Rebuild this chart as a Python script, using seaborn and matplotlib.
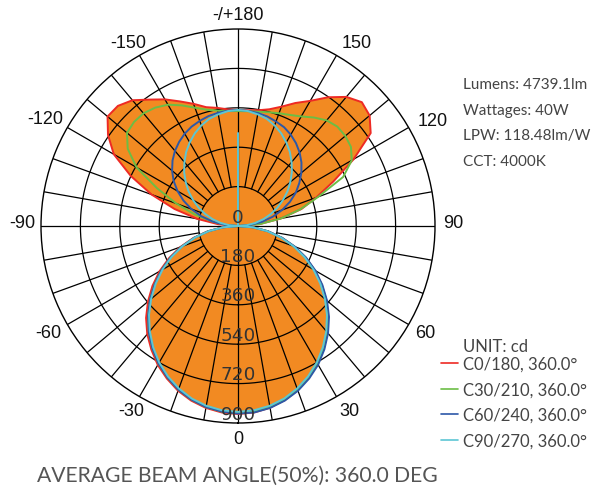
import numpy as np
import matplotlib
matplotlib.use("Agg")
import matplotlib.pyplot as plt
import seaborn as sns

sns.set_style("white")
plt.rcParams['font.family'] = ['Lato', 'DejaVu Sans']

# ---- data (cd), gamma angles -180..180 step 5 ----
angles = [-180, -175, -170, -165, -160, -155, -150, -145, -140, -135,
          -130, -125, -120, -115, -110, -105, -100, -95, -90,
          -85, -80, -75, -70, -65, -60, -55, -50, -45,
          -40, -35, -30, -25, -20, -15, -10, -5, 0,
          5, 10, 15, 20, 25, 30, 35, 40, 45,
          50, 55, 60, 65, 70, 75, 80, 85, 90,
          95, 100, 105, 110, 115, 120, 125, 130, 135,
          140, 145, 150, 155, 160, 165, 170, 175, 180]

c0_180 = [530, 535, 548, 562, 594, 628, 668, 705, 750, 776,
          778, 725, 655, 540, 420, 300, 190, 90, 0,
          71, 141, 211, 280, 348, 414, 477, 537, 594,
          645, 690, 733, 769, 801, 826, 844, 855, 859,
          855, 843, 824, 798, 765, 728, 684, 636, 583,
          527, 467, 405, 341, 274, 207, 139, 69, 0,
          100, 200, 300, 380, 480, 610, 740, 785, 800,
          770, 718, 660, 620, 580, 552, 537, 531, 530]
c30_210 = [525, 527, 535, 550, 575, 608, 640, 660, 672, 672,
           662, 615, 535, 408, 300, 205, 120, 60, 0,
           69, 138, 206, 273, 340, 404, 465, 525, 581,
           634, 682, 726, 763, 796, 821, 840, 851, 855,
           851, 840, 821, 796, 763, 726, 682, 634, 581,
           525, 465, 404, 340, 273, 206, 138, 69, 0,
           100, 200, 295, 390, 530, 600, 630, 640, 642,
           630, 605, 578, 560, 548, 538, 530, 526, 525]
c60_240 = [530, 529, 525, 520, 511, 501, 487, 469, 448, 423,
           393, 359, 319, 275, 227, 174, 118, 60, 0,
           69, 138, 206, 273, 340, 404, 465, 525, 581,
           634, 682, 726, 763, 796, 821, 840, 851, 857,
           855, 844, 826, 801, 769, 732, 688, 640, 588,
           531, 471, 409, 344, 277, 209, 140, 70, 0,
           57, 112, 165, 215, 262, 305, 342, 378, 410,
           438, 462, 482, 498, 508, 518, 524, 528, 530]
c90_270 = [530, 527, 518, 507, 489, 467, 441, 413, 381, 348,
           312, 276, 237, 199, 159, 120, 80, 40, 0,
           68, 136, 203, 270, 335, 398, 459, 518, 575,
           627, 676, 720, 758, 790, 816, 834, 845, 849,
           845, 834, 816, 790, 758, 720, 676, 627, 575,
           518, 459, 398, 335, 270, 203, 136, 68, 0,
           40, 80, 120, 159, 199, 237, 276, 312, 348,
           381, 413, 441, 467, 489, 507, 518, 527, 530]
spike_angles = [180, 180]
spike_values = [0, 425]

series_names = ["C0/180, 360.0°", "C30/210, 360.0°", "C60/240, 360.0°", "C90/270, 360.0°"]
series_values = [c0_180, c30_210, c60_240, c90_270]
series_colors = ["#EE2A24", "#6CBD45", "#2C58A8", "#5CC6D4"]

ring_values = [0, 180, 360, 540, 720, 900]
ring_labels = ["0", "180", "360", "540", "720", "900"]
angle_labels = ["0", "30", "60", "90", "120", "150", "-/+180", "-150", "-120", "-90", "-60", "-30"]

info_lines = ["Lumens: 4739.1lm", "Wattages: 40W", "LPW: 118.48lm/W", "CCT: 4000K"]
title = "AVERAGE BEAM ANGLE(50%): 360.0 DEG"

# ---- layout (pixels) ----
W, H = 592, 487
cx, cy, R = 238, 226, 197
angle_label_px = {"0": (238, 440), "30": (349, 411), "60": (425, 333), "90": (453, 223),
                  "120": (433, 121), "150": (357, 44), "-/+180": (238, 16),
                  "-150": (128, 44), "-120": (45, 120), "-90": (22, 223),
                  "-60": (48, 333), "-30": (131, 411)}

fig = plt.figure(figsize=(5.92, 4.87), dpi=100)
ax = fig.add_axes([(cx - R) / W, (H - cy - R) / H, 2 * R / W, 2 * R / H], projection='polar')
ax.set_theta_zero_location('S')
ax.set_theta_direction(1)
ax.set_ylim(0, 900)
ax.grid(False)
ax.set_xticks([])
ax.set_yticks([])
ax.spines['polar'].set_color('black')
ax.spines['polar'].set_linewidth(1.0)
ax.patch.set_alpha(0)

th = np.deg2rad(angles)

# orange fill of C0/180
ax.fill(th, c0_180, color="#F28A22", zorder=1, lw=0)

# grid
full = np.linspace(0, 2 * np.pi, 721)
for rv in ring_values[1:-1]:
    ax.plot(full, np.full_like(full, rv), color='black', lw=0.9, zorder=2)
for a in range(0, 360, 10):
    start = 0 if a % 90 == 0 else 180
    ax.plot([np.deg2rad(a)] * 2, [start, 900], color='black', lw=0.9, zorder=2)

# curves
for name, vals, col in zip(series_names, series_values, series_colors):
    sns.lineplot(x=th, y=vals, ax=ax, color=col, lw=1.4, sort=False,
                 estimator=None, legend=False, zorder=3)
sns.lineplot(x=np.deg2rad(spike_angles), y=spike_values, ax=ax, color=series_colors[3],
             lw=1.4, sort=False, estimator=None, legend=False, zorder=3)
ax.set_xlabel("")
ax.set_ylabel("")

# radial labels (just inside each ring, along the downward axis)
for rv, lab in zip(ring_values, ring_labels):
    if rv == 0:
        t, r = np.pi, 38
    else:
        t, r = 0, rv - 38
    ax.text(t, r, lab, ha='center', va='center', fontsize=13.3,
            color='#333333', family=['DejaVu Sans'], zorder=4)

# angle labels
for lab in angle_labels:
    px, py = angle_label_px[lab]
    fig.text(px / W, 1 - py / H, lab, ha='center', va='center', fontsize=13,
             color='#111111', family=['Liberation Sans'])

# info text
for i, line in enumerate(info_lines):
    fig.text(463 / W, 1 - (85 + i * 25.5) / H, line, ha='left', va='center',
             fontsize=11, color='#444444')

# legend
fig.text(463 / W, 1 - 347 / H, "UNIT: cd", ha='left', va='center', fontsize=12, color='#444444')
for i, (name, col) in enumerate(zip(series_names, series_colors)):
    y = 1 - (365 + i * 25.5) / H
    fig.add_artist(plt.Line2D([441 / W, 458 / W], [(1 - (363 + i * 25.5) / H)] * 2, color=col, lw=1.2))
    fig.text(463 / W, y, name, ha='left', va='center', fontsize=12, color='#444444')

fig.text(237 / W, 1 - 476 / H, title, ha='center', va='center', fontsize=15.2, color='#555555')

fig.savefig("out.png", dpi=100)
